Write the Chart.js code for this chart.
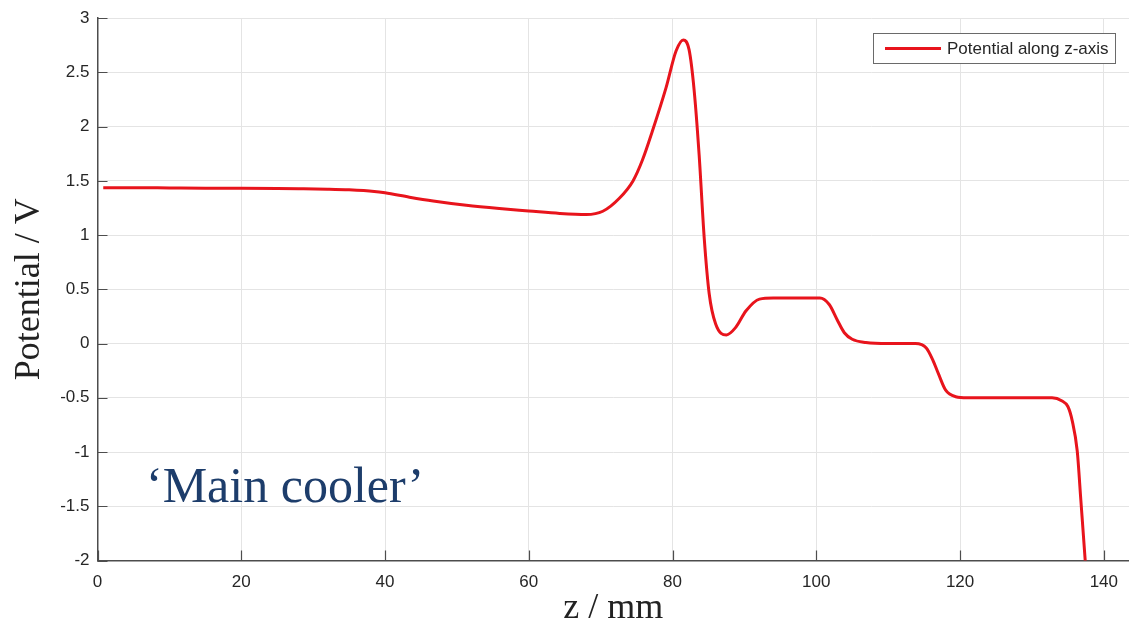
<!DOCTYPE html>
<html>
<head>
<meta charset="utf-8">
<script src="https://cdn.jsdelivr.net/npm/chart.js@4.4.1/dist/chart.umd.min.js"></script>
<style>
  html, body { margin: 0; padding: 0; background: #fff; }
  #wrap { width: 1130px; height: 630px; position: relative; }
</style>
</head>
<body>
<div id="wrap"><canvas id="chart" width="1130" height="630"></canvas></div>
<script>
// Data
const zValues = [0.8, 5, 10, 15, 20, 25, 28, 32, 35, 38.5, 40, 43.4, 46.7, 51.3, 55.9, 60, 64.3, 68, 70.3, 72.6, 74.5,
  75.8, 77.2, 79.1, 80.5, 81.5, 82.3, 83.0, 83.7, 84.4, 85.1, 86.0, 87.5, 88.8, 90.2, 92.1, 94, 97, 100.5,
  101.8, 102.9, 103.9, 105, 106.9, 110, 113.8, 115.3, 116.2, 117, 118, 119.4, 121, 125, 130, 132.8,
  134.2, 135, 135.6, 136.3, 136.8, 137.4, 137.7];
const potential = [1.437, 1.437, 1.435, 1.433, 1.432, 1.43, 1.428, 1.424, 1.418, 1.403, 1.39, 1.35, 1.315, 1.275, 1.245, 1.223, 1.20, 1.19, 1.22, 1.34, 1.50,
  1.69, 1.96, 2.36, 2.70, 2.80, 2.71, 2.34, 1.74, 0.98, 0.46, 0.18, 0.08, 0.15, 0.30, 0.41, 0.42, 0.42, 0.42,
  0.36, 0.22, 0.10, 0.04, 0.01, 0.0, 0.0, -0.04, -0.15, -0.28, -0.43, -0.49, -0.50, -0.50, -0.50, -0.50,
  -0.53, -0.58, -0.71, -0.99, -1.44, -1.99, -2.3];
const xTicks = [0, 20, 40, 60, 80, 100, 120, 140];
const yTicks = [-2, -1.5, -1, -0.5, 0, 0.5, 1, 1.5, 2, 2.5, 3];
const seriesLabel = 'Potential along z-axis';
const noteText = '\u2018Main cooler\u2019';

const lineColor = '#e8141c';
const axisColor = '#4d4d4d';

// MATLAB-style inward tick marks, legend box and annotation
const extras = {
  id: 'extras',
  afterDraw(chart) {
    const ctx = chart.ctx;
    const area = chart.chartArea;
    const xs = chart.scales.x, ys = chart.scales.y;
    ctx.save();
    ctx.strokeStyle = axisColor;
    ctx.lineWidth = 1.2;
    ctx.beginPath();
    yTicks.forEach(v => {
      const y = Math.round(ys.getPixelForValue(v)) + 0.5;
      ctx.moveTo(area.left, y);
      ctx.lineTo(area.left + 10, y);
    });
    xTicks.forEach(v => {
      const x = Math.round(xs.getPixelForValue(v)) + 0.5;
      ctx.moveTo(x, area.bottom);
      ctx.lineTo(x, area.bottom - 10);
    });
    ctx.stroke();

    // legend
    ctx.fillStyle = '#fff';
    ctx.fillRect(873, 33, 242, 30);
    ctx.strokeStyle = '#6a6a6a';
    ctx.lineWidth = 1;
    ctx.strokeRect(873.5, 33.5, 242, 30);
    ctx.strokeStyle = lineColor;
    ctx.lineWidth = 3;
    ctx.beginPath();
    ctx.moveTo(885, 48.5);
    ctx.lineTo(941, 48.5);
    ctx.stroke();
    ctx.fillStyle = '#262626';
    ctx.font = '17px "Liberation Sans", Arial, sans-serif';
    ctx.textBaseline = 'middle';
    ctx.fillText(seriesLabel, 947, 49);

    // annotation
    ctx.fillStyle = '#1d3d6b';
    ctx.font = '50px "Liberation Serif", "Times New Roman", serif';
    ctx.textBaseline = 'alphabetic';
    ctx.fillText(noteText, 146, 502);
    ctx.restore();
  }
};

new Chart(document.getElementById('chart'), {
  type: 'line',
  data: {
    datasets: [{
      label: seriesLabel,
      data: zValues.map((z, i) => ({ x: z, y: potential[i] })),
      borderColor: lineColor,
      borderWidth: 3,
      pointRadius: 0,
      cubicInterpolationMode: 'monotone',
      fill: false
    }]
  },
  options: {
    responsive: false,
    animation: false,
    layout: { padding: { top: 15, right: 0, bottom: 0, left: 0 } },
    plugins: {
      legend: { display: false },
      tooltip: { enabled: false }
    },
    scales: {
      x: {
        type: 'linear',
        min: 0,
        max: 143.5,
        afterBuildTicks: s => { s.ticks = xTicks.map(v => ({ value: v })); },
        afterFit: s => { s.height = 69.5; },
        grid: { color: '#e4e4e4', drawTicks: false },
        border: { color: axisColor, width: 1.5 },
        ticks: {
          padding: 12,
          maxRotation: 0,
          color: '#262626',
          callback: v => String(v),
          font: { family: '"Liberation Sans", Arial, sans-serif', size: 17 }
        },
        title: {
          display: true,
          text: 'z / mm',
          color: '#222',
          padding: { top: 0, bottom: 0 },
          font: { family: '"Liberation Serif", "Times New Roman", serif', size: 36 }
        }
      },
      y: {
        min: -2,
        max: 3,
        afterBuildTicks: s => { s.ticks = yTicks.map(v => ({ value: v })); },
        afterFit: s => { s.width = 97.5; },
        grid: { color: '#e4e4e4', drawTicks: false },
        border: { color: axisColor, width: 1.5 },
        ticks: {
          padding: 8,
          color: '#262626',
          callback: v => String(v),
          font: { family: '"Liberation Sans", Arial, sans-serif', size: 17 }
        },
        title: {
          display: true,
          text: 'Potential / V',
          color: '#222',
          padding: { top: 8, bottom: 0 },
          font: { family: '"Liberation Serif", "Times New Roman", serif', size: 36 }
        }
      }
    }
  },
  plugins: [extras]
});
</script>
</body>
</html>
